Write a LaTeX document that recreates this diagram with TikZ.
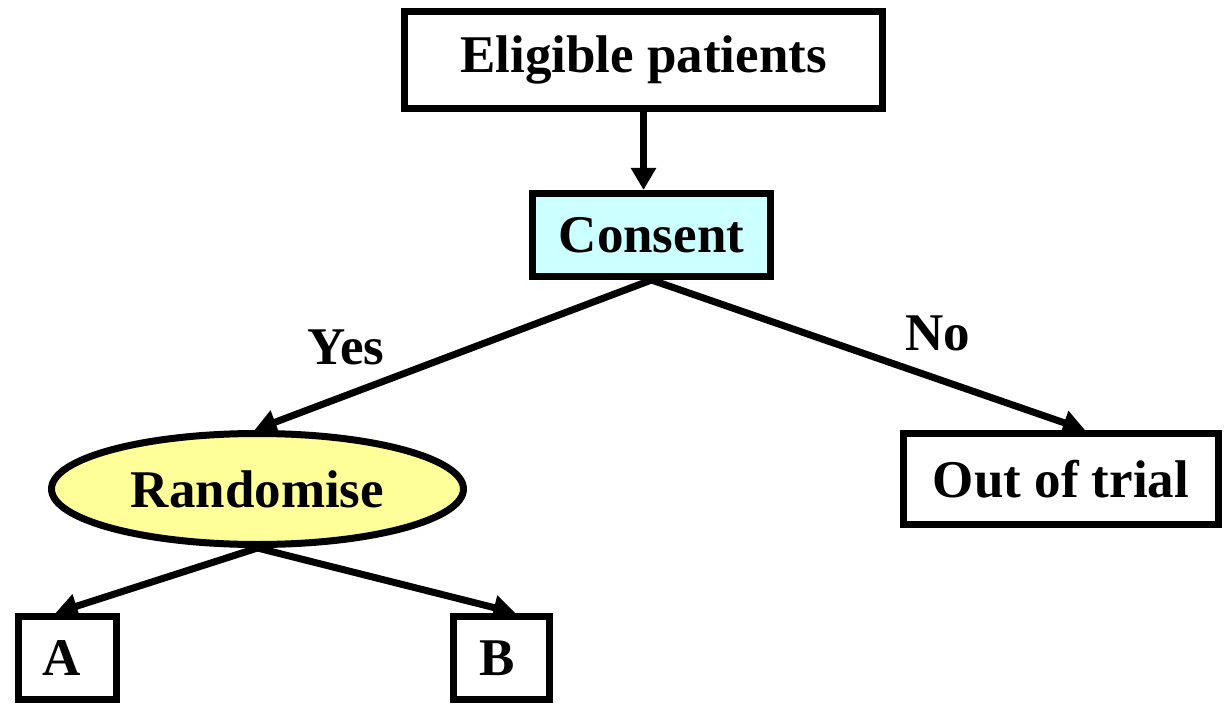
\documentclass[tikz,border=0pt]{standalone}
\usepackage{fontspec}
\setmainfont{Liberation Serif}
\usetikzlibrary{arrows.meta,shapes.geometric,calc}
\definecolor{consentfill}{RGB}{204,255,255}
\definecolor{randfill}{RGB}{255,255,153}
\begin{document}
\begin{tikzpicture}[x=0.5pt,y=-0.5pt,
  box/.style={draw=black,line width=3.5pt,fill=white,inner sep=0pt,font=\fontsize{26.5}{30}\selectfont\bfseries},
  oval/.style={box,ellipse},
  conn/.style={line width=3.5pt,-{Triangle[length=11pt,width=12pt]}},
  lbl/.style={font=\fontsize{26.5}{30}\selectfont\bfseries}]
\useasboundingbox (0,0) rectangle (1225,705);
\node[box,minimum width=239pt,minimum height=48.5pt] (elig) at (643.5,60) {Eligible patients};
\node[box,fill=consentfill,minimum width=119pt,minimum height=41.5pt] (cons) at (651.5,235) {\raisebox{-1.5pt}{Consent}};
\node[oval,fill=randfill,minimum width=206pt,minimum height=55.5pt] (rand) at (257.5,489) {Randomise};
\node[box,minimum width=157.5pt,minimum height=45.5pt] (out) at (1061,479) {Out of trial};
\node[box,minimum width=49pt,minimum height=41.5pt] (A) at (67.5,658) {\raisebox{-3pt}{A}\hspace*{6pt}};
\node[box,minimum width=48pt,minimum height=41.5pt] (B) at (501.5,658) {\raisebox{-3pt}{B}\hspace*{4pt}};
\node[lbl] (yes) at (346,347) {Yes};
\node[lbl] (no) at (938,333) {No};
\coordinate (constop) at (elig.south |- cons.north);
\coordinate (randtop) at ($(rand.north)+(-3,0)$);
\coordinate (outtop) at ($(out.north)+(24,0)$);
\coordinate (Atop) at ($(A.north)+(-12,0)$);
\coordinate (Btop) at ($(B.north)+(14,0)$);
\draw[conn] (elig.south) -- (constop);
\draw[conn] (cons.south) -- (randtop);
\draw[conn] (cons.south) -- (outtop);
\draw[conn] (rand.south) -- (Atop);
\draw[conn] (rand.south) -- (Btop);
\end{tikzpicture}
\end{document}
